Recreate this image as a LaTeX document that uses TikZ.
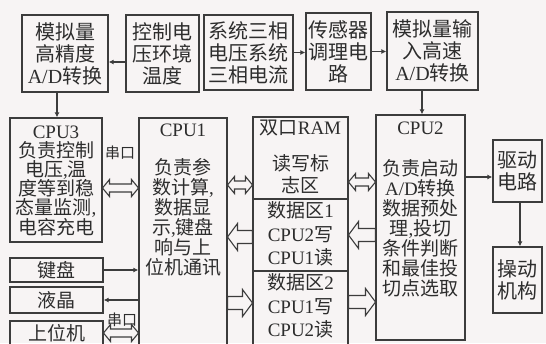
\documentclass[tikz,border=0pt]{standalone}
\usepackage{fontspec}
\setmainfont{Liberation Serif}
\newfontfamily\cjk{Noto Sans CJK SC}
\usetikzlibrary{arrows.meta}
\newcommand\zh[1]{{\cjk #1}}
\definecolor{bgc}{RGB}{247,244,244}
\definecolor{boxc}{RGB}{60,60,60}
\definecolor{txtc}{RGB}{45,45,45}
% hollow double arrow: x-left, x-right, y
\newcommand\hdbl[3]{\draw[hol] (#1,#3) -- (#1+7,#3-8.5) -- (#1+7,#3-4) -- (#2-7,#3-4)
  -- (#2-7,#3-8.5) -- (#2,#3) -- (#2-7,#3+8.5) -- (#2-7,#3+4) -- (#1+7,#3+4)
  -- (#1+7,#3+8.5) -- cycle;}
% hollow single arrow pointing right: tail x, tip x, y
\newcommand\hright[3]{\draw[hol] (#1,#3-6.5) -- (#2-10,#3-6.5) -- (#2-10,#3-13.5) -- (#2,#3)
  -- (#2-10,#3+13.5) -- (#2-10,#3+6.5) -- (#1,#3+6.5) -- cycle;}
% hollow single arrow pointing left: tip x, tail x, y
\newcommand\hleft[3]{\draw[hol] (#2,#3-6.5) -- (#1+10,#3-6.5) -- (#1+10,#3-13.5) -- (#1,#3)
  -- (#1+10,#3+13.5) -- (#1+10,#3+6.5) -- (#2,#3+6.5) -- cycle;}
\begin{document}
\begin{tikzpicture}[x=1pt,y=-1pt,
  box/.style={draw=boxc, line width=1.3pt, inner sep=0pt},
  txt/.style={text=txtc, align=center, inner sep=0pt, font=\fontsize{19}{20}\selectfont},
  toptxt/.style={text=txtc, align=center, font=\fontsize{20}{22}\selectfont},
  arr/.style={draw=boxc, line width=1.2pt, -{Latex[length=5pt,width=5pt]}},
  hol/.style={draw=boxc, line width=1.1pt, fill=bgc, line join=miter},
  lbl/.style={text=txtc, inner sep=0pt, font=\fontsize{15}{16}\selectfont}]
\fill[bgc] (0,0) rectangle (546,343);
\useasboundingbox (0,0) rectangle (546,343);
\clip (0,0) rectangle (546,343);

% top row
\node[box, toptxt, minimum width=86pt, minimum height=77pt] (adhi) at (65,53.5)
  {\zh{模拟量}\\\zh{高精度}\\A/D\zh{转换}};
\node[box, toptxt, minimum width=73pt, minimum height=77pt] (ctl) at (162.5,53.5)
  {\zh{控制电}\\\zh{压环境}\\\zh{温度}};
\node[box, toptxt, minimum width=89pt, minimum height=75pt] (sys) at (248.5,52.5)
  {\zh{系统三相}\\\zh{电压系统}\\\zh{三相电流}};
\node[box, toptxt, minimum width=65pt, minimum height=77pt] (sens) at (338.5,51.5)
  {\zh{传感器}\\\zh{调理电}\\\zh{路}};
\node[box, toptxt, minimum width=91pt, minimum height=78pt] (adhs) at (432.5,51)
  {\zh{模拟量输}\\\zh{入高速}\\A/D\zh{转换}};

% middle row boxes
\node[box, minimum width=92pt, minimum height=124pt] (cpu3) at (56,180) {};
\node[txt, font=\fontsize{19}{19.2}\selectfont] (cpu3t) at (56,180.5)
  {CPU3\\\zh{负责控制}\\\zh{电压},\zh{温}\\\zh{度等到稳}\\\zh{态量监测},\\\zh{电容充电}};
\node[box, minimum width=88pt, minimum height=242pt] (cpu1) at (183,239) {};
\node[txt] (cpu1h) at (183,130) {CPU1};
\node[txt] (cpu1t) at (183,217)
  {\zh{负责参}\\\zh{数计算},\\\zh{数据显}\\\zh{示},\zh{键盘}\\\zh{响与上}\\\zh{位机通讯}};

\node[box, minimum width=95pt, minimum height=82pt] (ramtop) at (300.5,158) {};
\node[txt] (ramh) at (300.5,128) {\zh{双口}RAM};
\node[txt, font=\fontsize{19}{22}\selectfont] (ramt) at (300.5,174) {\zh{读写标}\\\zh{志区}};
\node[box, minimum width=95pt, minimum height=72pt] (ram1) at (300.5,235) {};
\node[txt, font=\fontsize{19}{23.5}\selectfont] (ram1t) at (300.5,234)
  {\zh{数据区}1\\CPU2\zh{写}\\CPU1\zh{读}};
\node[box, minimum width=95pt, minimum height=89pt] (ram2) at (300.5,315.5) {};
\node[txt, font=\fontsize{19}{23.5}\selectfont] (ram2t) at (300.5,306)
  {\zh{数据区}2\\CPU1\zh{写}\\CPU2\zh{读}};

\node[box, minimum width=89pt, minimum height=225pt] (cpu2) at (420.5,227.5) {};
\node[txt] (cpu2h) at (420.5,128) {CPU2};
\node[txt] (cpu2t) at (420.5,228)
  {\zh{负责启动}\\A/D\zh{转换}\\\zh{数据预处}\\\zh{理},\zh{投切}\\\zh{条件判断}\\\zh{和最佳投}\\\zh{切点选取}};

\node[box, toptxt, minimum width=49pt, minimum height=62pt] (drive) at (517.5,171)
  {\zh{驱动}\\\zh{电路}};
\node[box, toptxt, minimum width=49pt, minimum height=66pt] (mech) at (517.5,280)
  {\zh{操动}\\\zh{机构}};

% bottom left
\node[box, txt, minimum width=93pt, minimum height=24pt] (kb) at (56.5,270) {\zh{键盘}};
\node[box, txt, minimum width=93pt, minimum height=26pt] (lcd) at (56.5,300) {\zh{液晶}};
\node[box, minimum width=93pt, minimum height=34pt] (host) at (56.5,338) {};
\node[txt] (hostt) at (56.5,333) {\zh{上位机}};

% labels
\node[lbl] (sk1) at (120,153) {\zh{串口}};
\node[lbl] (sk2) at (122,320) {\zh{串口}};

% thin arrows
\coordinate (b1) at ([yshift=-8.5pt]ctl.west);
\draw[arr] (b1) -- (b1 -| adhi.east);
\draw[arr] (sys.east) -- (sys.east -| sens.west);
\draw[arr] (sens.east) -- (sens.east -| adhs.west);
\coordinate (a1) at ([xshift=-8pt]adhi.south);
\draw[arr] (a1) -- (a1 |- cpu3.north);
\coordinate (e1) at ([xshift=-10.5pt]adhs.south);
\draw[arr] (e1) -- (e1 |- cpu2.north);
\coordinate (d1) at ([yshift=-6pt]drive.west);
\draw[arr] (d1 -| cpu2.east) -- (d1);
\coordinate (d2) at ([xshift=2.5pt]drive.south);
\draw[arr] (d2) -- (d2 |- mech.north);
\draw[arr] (kb.east) -- (kb.east -| cpu1.west);
\draw[arr] (lcd.east -| cpu1.west) -- (lcd.east);

% hollow arrows
\hdbl{102.5}{138.5}{188}
\hdbl{227.5}{252.5}{185}
\hdbl{348.5}{375.5}{182}
\hdbl{103.5}{138.5}{333}
\hleft{227.5}{252.5}{237}
\hleft{348.5}{375.5}{235}
\hright{227.5}{252.5}{303}
\hright{348.5}{375.5}{302}
\end{tikzpicture}
\end{document}
